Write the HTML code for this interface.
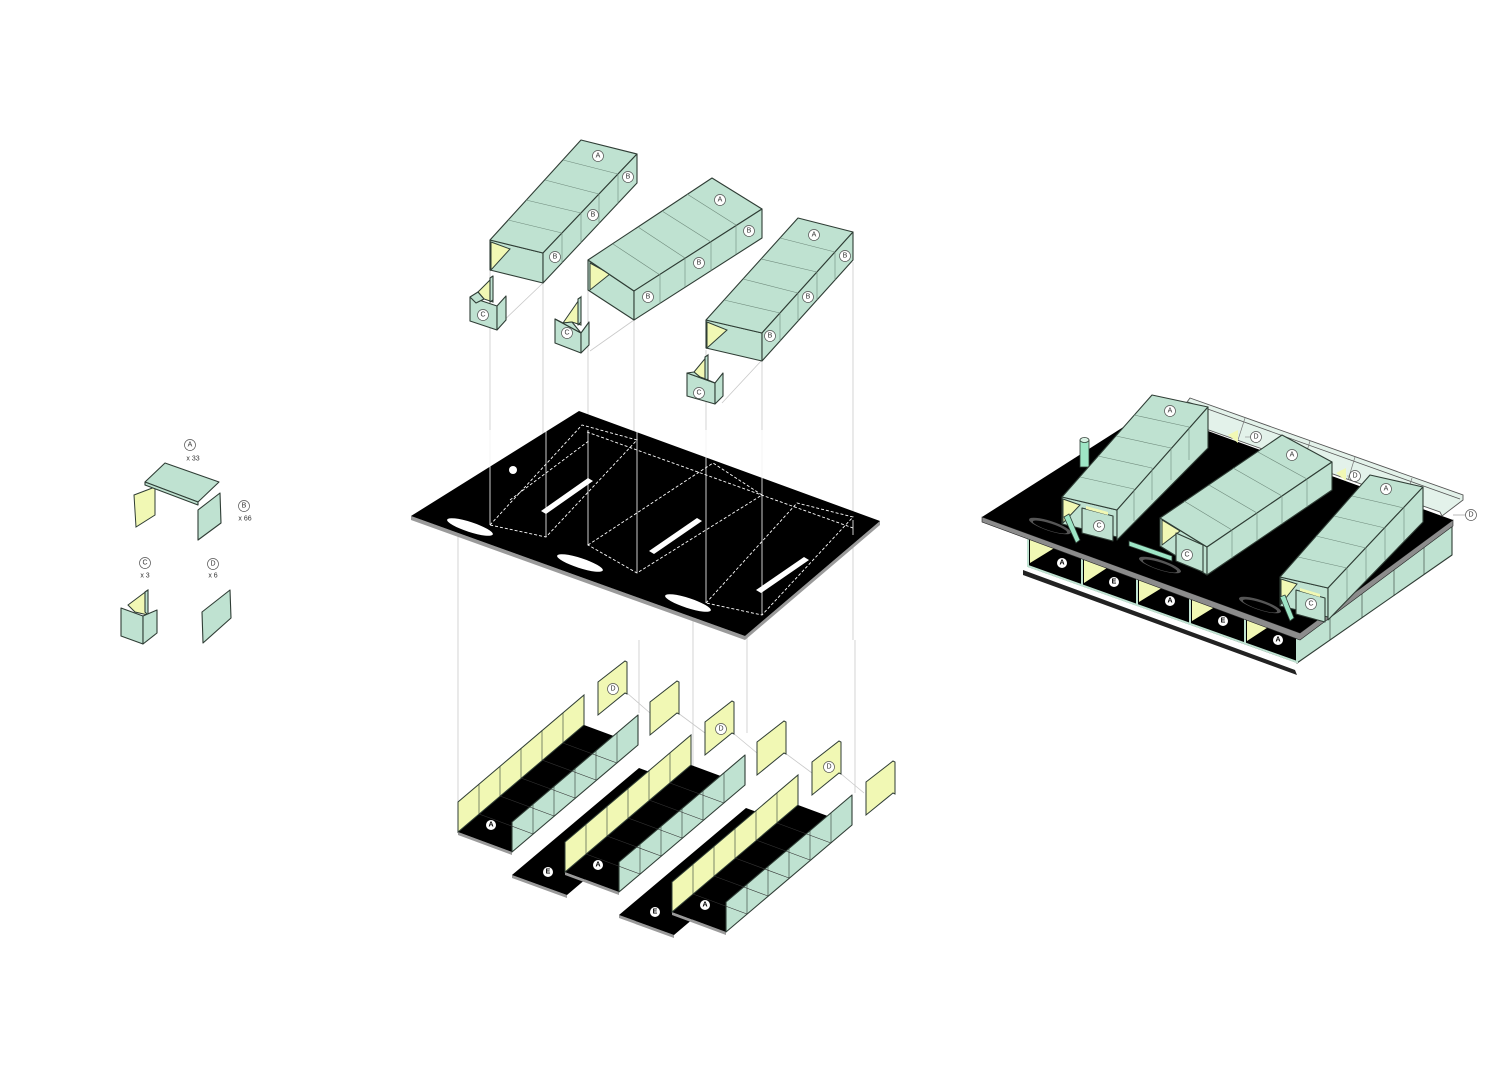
<!DOCTYPE html>
<html><head><meta charset="utf-8"><style>
html,body{margin:0;padding:0;background:#fff}
svg{display:block}
text{font-family:"Liberation Sans",sans-serif;text-anchor:middle;dominant-baseline:central}
.m{fill:#bfe2d1;stroke:#2f3d35;stroke-width:1.1;stroke-linejoin:round}
.y{fill:#f1f8b4;stroke:#2f3d35;stroke-width:1}
.d{fill:none;stroke:#6f8a7c;stroke-width:.6}
.k{fill:#000}
.g{stroke:#c9c9c9;stroke-width:.8;fill:none}
.w{fill:none;stroke:#fff;stroke-width:.9;stroke-dasharray:3 2}
.c{fill:#fff;stroke:#555;stroke-width:.7}
.t{font-size:7px;fill:#333}
.cb{fill:#fff;stroke:none}
.tb{font-size:7px;fill:#000;font-weight:bold}
.p{fill:#e3f2ea;stroke:#555;stroke-width:.9}
</style></head><body>
<svg width="1512" height="1068" viewBox="0 0 1512 1068" xmlns="http://www.w3.org/2000/svg">

<!-- LEGEND -->
<circle class="c" cx="190" cy="445" r="5.5"/><text class="t" x="190" y="445">A</text>
<text class="t" x="193" y="459">x 33</text>
<polygon class="y" points="134,495 155,487 155,515 136,527"/>
<polygon class="m" points="145,482 165,463 219,482 198,502"/>
<polygon class="m" points="145,482 198,502 198,505 145,485"/>
<polygon class="m" points="198,510 220,493 221,523 198,540"/>
<circle class="c" cx="244" cy="506" r="5.5"/><text class="t" x="244" y="506">B</text>
<text class="t" x="245" y="519">x 66</text>
<circle class="c" cx="145" cy="563" r="5.5"/><text class="t" x="145" y="563">C</text>
<text class="t" x="145" y="576">x 3</text>
<circle class="c" cx="213" cy="564" r="5.5"/><text class="t" x="213" y="564">D</text>
<text class="t" x="213" y="576">x 6</text>
<polygon class="y" points="128,605 148,590 148,615 135,612"/>
<polygon class="m" points="145,592 148,590 148,615 145,612"/>
<polygon class="m" points="121,608 143,616 143,644 121,636"/>
<polygon class="m" points="143,616 157,610 157,633 143,644"/>
<polygon class="m" points="202,612 230,590 231,618 203,643"/>

<!-- guide lines -->
<g class="g">
<line x1="490" y1="270" x2="490" y2="540"/><line x1="543" y1="283" x2="543" y2="520"/>
<line x1="588" y1="290" x2="588" y2="545"/><line x1="634" y1="320" x2="634" y2="445"/>
<line x1="706" y1="350" x2="706" y2="603"/><line x1="762" y1="360" x2="762" y2="615"/>
<line x1="853" y1="262" x2="853" y2="640"/>
<line x1="458" y1="520" x2="458" y2="802"/><line x1="639" y1="640" x2="639" y2="713"/>
<line x1="693" y1="600" x2="693" y2="810"/><line x1="747" y1="620" x2="747" y2="733"/>
<line x1="855" y1="640" x2="855" y2="793"/>
<line x1="497" y1="327" x2="543" y2="283"/><line x1="590" y1="351" x2="634" y2="320"/><line x1="722" y1="403" x2="762" y2="360"/>
<line x1="627" y1="693" x2="650" y2="713"/><line x1="678" y1="713" x2="705" y2="733"/>
<line x1="733" y1="733" x2="757" y2="753"/><line x1="785" y1="753" x2="812" y2="773"/>
<line x1="840" y1="773" x2="864" y2="793"/>
</g>

<!-- ROOF 1 -->
<polygon class="m" points="490,240 543,253 543,283 490,270"/>
<polygon class="y" points="491,242 510,249 491,270"/>
<polygon class="m" points="490,240 581,140 637,154 543,253"/>
<polygon class="m" points="543,253 637,154 637,183 543,283"/>
<g class="d"><line x1="508" y1="220" x2="562" y2="233"/><line x1="526" y1="200" x2="581" y2="213"/><line x1="545" y1="180" x2="599" y2="194"/><line x1="563" y1="160" x2="618" y2="174"/>
<line x1="562" y1="233" x2="562" y2="263"/><line x1="581" y1="213" x2="581" y2="243"/><line x1="599" y1="194" x2="599" y2="224"/><line x1="618" y1="174" x2="618" y2="204"/></g>
<circle class="c" cx="598" cy="156" r="5.5"/><text class="t" x="598" y="156">A</text>
<circle class="c" cx="628" cy="177" r="5.5"/><text class="t" x="628" y="177">B</text>
<circle class="c" cx="593" cy="215" r="5.5"/><text class="t" x="593" y="215">B</text>
<circle class="c" cx="555" cy="257" r="5.5"/><text class="t" x="555" y="257">B</text>
<!-- C1 -->
<polygon class="y" points="478,292 493,277 493,302 484,299"/>
<polygon class="m" points="490,278 493,276 493,300 490,302"/>
<polygon class="m" points="470,297 497,306 497,330 470,321"/>
<polygon class="m" points="497,306 506,296 506,320 497,330"/>
<polygon class="m" points="470,297 478,292 484,299 476,303"/>
<circle class="c" cx="483" cy="315" r="5.5"/><text class="t" x="483" y="315">C</text>

<!-- ROOF 2 -->
<polygon class="m" points="588,260 634,291 634,320 588,290"/>
<polygon class="y" points="590,263 610,274 590,290"/>
<polygon class="m" points="588,260 712,178 762,209 634,291"/>
<polygon class="m" points="634,291 762,209 762,238 634,320"/>
<g class="d"><line x1="613" y1="244" x2="660" y2="275"/><line x1="638" y1="227" x2="685" y2="258"/><line x1="662" y1="211" x2="711" y2="242"/><line x1="687" y1="194" x2="736" y2="225"/>
<line x1="660" y1="275" x2="660" y2="304"/><line x1="685" y1="258" x2="685" y2="287"/><line x1="711" y1="242" x2="711" y2="271"/><line x1="736" y1="225" x2="736" y2="254"/></g>
<circle class="c" cx="720" cy="200" r="5.5"/><text class="t" x="720" y="200">A</text>
<circle class="c" cx="749" cy="231" r="5.5"/><text class="t" x="749" y="231">B</text>
<circle class="c" cx="699" cy="263" r="5.5"/><text class="t" x="699" y="263">B</text>
<circle class="c" cx="648" cy="297" r="5.5"/><text class="t" x="648" y="297">B</text>
<!-- C2 -->
<polygon class="y" points="563,323 581,297 581,325 572,322"/>
<polygon class="m" points="578,299 581,297 581,322 578,325"/>
<polygon class="m" points="555,319 581,333 581,353 555,343"/>
<polygon class="m" points="581,333 589,322 589,345 581,353"/>
<polygon class="m" points="555,319 563,323 572,322 581,333"/>
<circle class="c" cx="567" cy="333" r="5.5"/><text class="t" x="567" y="333">C</text>

<!-- ROOF 3 -->
<polygon class="m" points="706,320 762,333 762,361 706,348"/>
<polygon class="y" points="707,322 727,330 707,348"/>
<polygon class="m" points="706,320 798,218 853,232 762,333"/>
<polygon class="m" points="762,333 853,232 853,260 762,361"/>
<g class="d"><line x1="724" y1="300" x2="780" y2="313"/><line x1="743" y1="279" x2="798" y2="293"/><line x1="761" y1="259" x2="817" y2="272"/><line x1="780" y1="238" x2="835" y2="252"/>
<line x1="780" y1="313" x2="780" y2="341"/><line x1="798" y1="293" x2="798" y2="321"/><line x1="817" y1="272" x2="817" y2="300"/><line x1="835" y1="252" x2="835" y2="280"/></g>
<circle class="c" cx="814" cy="235" r="5.5"/><text class="t" x="814" y="235">A</text>
<circle class="c" cx="845" cy="256" r="5.5"/><text class="t" x="845" y="256">B</text>
<circle class="c" cx="808" cy="297" r="5.5"/><text class="t" x="808" y="297">B</text>
<circle class="c" cx="770" cy="336" r="5.5"/><text class="t" x="770" y="336">B</text>
<!-- C3 -->
<polygon class="y" points="694,372 708,355 708,380 700,377"/>
<polygon class="m" points="705,357 708,355 708,379 705,381"/>
<polygon class="m" points="687,373 715,383 715,404 687,396"/>
<polygon class="m" points="715,383 723,373 723,396 715,404"/>
<polygon class="m" points="687,373 694,372 700,377 708,380 715,383"/>
<circle class="c" cx="699" cy="393" r="5.5"/><text class="t" x="699" y="393">C</text>

<!-- SLAB -->
<polygon fill="#9a9a9a" points="411,516 411,520 745,640 880,525 880,521 745,636"/>
<polygon class="k" points="411,516 579,411 880,521 745,636"/>
<g fill="#fff">
<ellipse cx="470" cy="527" rx="24" ry="5" transform="rotate(18 470 527)"/>
<ellipse cx="580" cy="563" rx="24" ry="5" transform="rotate(18 580 563)"/>
<ellipse cx="688" cy="603" rx="24" ry="5" transform="rotate(18 688 603)"/>
<circle cx="513" cy="470" r="4"/>
<polygon points="541,511 588,478 593,481 546,514"/>
<polygon points="649,551 697,518 702,521 654,554"/>
<polygon points="756,590 804,557 809,560 761,593"/>
</g>
<g class="w">
<polygon points="490,525 582,425 637,440 546,537"/>
<polygon points="588,545 713,463 762,495 637,573"/>
<polygon points="706,603 797,503 853,517 762,615"/>
<polyline points="587,432 853,528"/>
<polyline points="510,500 590,440"/>
</g>
<g stroke="#fff" stroke-width=".8"><line x1="490" y1="430" x2="490" y2="525"/><line x1="546" y1="430" x2="546" y2="537"/><line x1="588" y1="430" x2="588" y2="545"/><line x1="637" y1="430" x2="637" y2="573"/><line x1="706" y1="430" x2="706" y2="603"/><line x1="762" y1="430" x2="762" y2="615"/><line x1="853" y1="520" x2="853" y2="535"/></g>

<!-- CHANNELS -->
<g id="ch1">
<polygon fill="#9a9a9a" points="458,832 512,852 512,855 458,835"/>
<polygon class="k" points="458,832 512,852 638,745 584,725"/>
<polygon class="y" points="458,832 458,802 584,695 584,725"/>
<polygon class="m" points="512,852 512,822 638,715 638,745"/>
<g stroke="#2f3d35" stroke-width=".6"><line x1="479" y1="784" x2="479" y2="814"/><line x1="500" y1="766" x2="500" y2="796"/><line x1="521" y1="748" x2="521" y2="778"/><line x1="542" y1="730" x2="542" y2="760"/><line x1="563" y1="713" x2="563" y2="743"/>
<line x1="533" y1="804" x2="533" y2="834"/><line x1="554" y1="786" x2="554" y2="816"/><line x1="575" y1="768" x2="575" y2="798"/><line x1="596" y1="750" x2="596" y2="780"/><line x1="617" y1="733" x2="617" y2="763"/></g>
<g stroke="#333" stroke-width=".6"><line x1="479" y1="814" x2="533" y2="834"/><line x1="500" y1="796" x2="554" y2="816"/><line x1="521" y1="778" x2="575" y2="798"/><line x1="542" y1="760" x2="596" y2="780"/><line x1="563" y1="743" x2="617" y2="763"/></g>
<circle class="cb" cx="491" cy="825" r="5"/><text class="tb" x="491" y="825">A</text>
</g>
<!-- E plate 1 -->
<polygon fill="#9a9a9a" points="512,875 567,895 567,898 512,878"/>
<polygon class="k" points="512,875 567,895 693,788 639,768"/>
<circle class="cb" cx="548" cy="872" r="5"/><text class="tb" x="548" y="872">E</text>
<g transform="translate(107,40)">
<polygon fill="#9a9a9a" points="458,832 512,852 512,855 458,835"/>
<polygon class="k" points="458,832 512,852 638,745 584,725"/>
<polygon class="y" points="458,832 458,802 584,695 584,725"/>
<polygon class="m" points="512,852 512,822 638,715 638,745"/>
<g stroke="#2f3d35" stroke-width=".6"><line x1="479" y1="784" x2="479" y2="814"/><line x1="500" y1="766" x2="500" y2="796"/><line x1="521" y1="748" x2="521" y2="778"/><line x1="542" y1="730" x2="542" y2="760"/><line x1="563" y1="713" x2="563" y2="743"/>
<line x1="533" y1="804" x2="533" y2="834"/><line x1="554" y1="786" x2="554" y2="816"/><line x1="575" y1="768" x2="575" y2="798"/><line x1="596" y1="750" x2="596" y2="780"/><line x1="617" y1="733" x2="617" y2="763"/></g>
<g stroke="#333" stroke-width=".6"><line x1="479" y1="814" x2="533" y2="834"/><line x1="500" y1="796" x2="554" y2="816"/><line x1="521" y1="778" x2="575" y2="798"/><line x1="542" y1="760" x2="596" y2="780"/><line x1="563" y1="743" x2="617" y2="763"/></g>
<circle class="cb" cx="491" cy="825" r="5"/><text class="tb" x="491" y="825">A</text>
</g>
<g transform="translate(107,40)">
<polygon fill="#9a9a9a" points="512,875 567,895 567,898 512,878"/>
<polygon class="k" points="512,875 567,895 693,788 639,768"/>
<circle class="cb" cx="548" cy="872" r="5"/><text class="tb" x="548" y="872">E</text>
</g>
<g transform="translate(214,80)">
<polygon fill="#9a9a9a" points="458,832 512,852 512,855 458,835"/>
<polygon class="k" points="458,832 512,852 638,745 584,725"/>
<polygon class="y" points="458,832 458,802 584,695 584,725"/>
<polygon class="m" points="512,852 512,822 638,715 638,745"/>
<g stroke="#2f3d35" stroke-width=".6"><line x1="479" y1="784" x2="479" y2="814"/><line x1="500" y1="766" x2="500" y2="796"/><line x1="521" y1="748" x2="521" y2="778"/><line x1="542" y1="730" x2="542" y2="760"/><line x1="563" y1="713" x2="563" y2="743"/>
<line x1="533" y1="804" x2="533" y2="834"/><line x1="554" y1="786" x2="554" y2="816"/><line x1="575" y1="768" x2="575" y2="798"/><line x1="596" y1="750" x2="596" y2="780"/><line x1="617" y1="733" x2="617" y2="763"/></g>
<g stroke="#333" stroke-width=".6"><line x1="479" y1="814" x2="533" y2="834"/><line x1="500" y1="796" x2="554" y2="816"/><line x1="521" y1="778" x2="575" y2="798"/><line x1="542" y1="760" x2="596" y2="780"/><line x1="563" y1="743" x2="617" y2="763"/></g>
<circle class="cb" cx="491" cy="825" r="5"/><text class="tb" x="491" y="825">A</text>
</g>
<!-- D panels -->
<g>
<polygon class="y" points="598,682 625,661 627,662 627,694 625,693 598,715"/>
<polygon class="y" points="650,702 677,681 679,682 679,714 677,713 650,735"/>
<polygon class="y" points="705,722 732,701 734,702 734,734 732,733 705,755"/>
<polygon class="y" points="757,742 784,721 786,722 786,754 784,753 757,775"/>
<polygon class="y" points="812,762 839,741 841,742 841,774 839,773 812,795"/>
<polygon class="y" points="866,782 893,761 895,762 895,794 893,793 866,815"/>
<circle class="c" cx="613" cy="689" r="5.5"/><text class="t" x="613" y="689">D</text>
<circle class="c" cx="721" cy="729" r="5.5"/><text class="t" x="721" y="729">D</text>
<circle class="c" cx="829" cy="767" r="5.5"/><text class="t" x="829" y="767">D</text>
</g>

<!-- RIGHT ASSEMBLY -->
<!-- lower layer -->
<polygon fill="#222" points="1023,570 1295,670 1297,675 1023,575"/>
<polygon class="m" points="1297,633 1452,525 1452,555 1297,663"/>
<g stroke="#2f3d35" stroke-width=".6"><line x1="1330" y1="610" x2="1330" y2="640"/><line x1="1362" y1="588" x2="1362" y2="618"/><line x1="1394" y1="566" x2="1394" y2="596"/><line x1="1424" y1="544" x2="1424" y2="574"/></g>
<polygon class="k" points="1028,537 1297,633 1297,663 1028,567"/>
<g fill="#f1f8b4">
<polygon points="1030,538 1056,547 1030,563"/>
<polygon points="1084,557 1110,566 1084,583"/>
<polygon points="1139,577 1165,586 1139,602"/>
<polygon points="1192,596 1218,605 1192,621"/>
<polygon points="1247,615 1273,624 1247,641"/>
</g>
<g stroke="#bfe2d1" stroke-width="2"><line x1="1028" y1="537" x2="1028" y2="567"/><line x1="1082" y1="556" x2="1082" y2="586"/><line x1="1137" y1="576" x2="1137" y2="606"/><line x1="1190" y1="595" x2="1190" y2="625"/><line x1="1245" y1="614" x2="1245" y2="644"/><line x1="1297" y1="633" x2="1297" y2="663"/>
<line x1="1028" y1="566" x2="1297" y2="662"/></g>
<g>
<circle class="cb" cx="1062" cy="563" r="5"/><text class="tb" x="1062" y="563">A</text>
<circle class="cb" cx="1114" cy="582" r="5"/><text class="tb" x="1114" y="582">E</text>
<circle class="cb" cx="1170" cy="601" r="5"/><text class="tb" x="1170" y="601">A</text>
<circle class="cb" cx="1223" cy="621" r="5"/><text class="tb" x="1223" y="621">E</text>
<circle class="cb" cx="1278" cy="640" r="5"/><text class="tb" x="1278" y="640">A</text>
</g>
<!-- slab -->
<polygon fill="#8c8c8c" stroke="#222" stroke-width=".6" points="982,517 1300,633 1453,520 1453,526 1300,640 982,522"/>
<polygon class="k" points="982,517 1150,410 1453,520 1300,633"/>
<!-- glass panels -->
<polygon class="p" points="1190,398 1463,495 1463,500 1442,516 1440,512 1175,418"/>
<polyline fill="none" stroke="#555" stroke-width=".8" points="1188,402 1460,499"/>
<g stroke="#777" stroke-width=".7"><line x1="1245" y1="418" x2="1238" y2="440"/><line x1="1310" y1="441" x2="1303" y2="464"/><line x1="1355" y1="457" x2="1348" y2="480"/><line x1="1412" y1="478" x2="1405" y2="500"/></g>
<polygon fill="#f1f8b4" points="1228,435 1238,430 1238,443"/>
<polygon fill="#f1f8b4" points="1336,473 1346,468 1346,481"/>
<g stroke="#888" stroke-width=".6"><line x1="1245" y1="437" x2="1251" y2="437"/><line x1="1347" y1="476" x2="1350" y2="476"/><line x1="1453" y1="515" x2="1465" y2="515"/></g>
<circle class="c" cx="1256" cy="437" r="5.5"/><text class="t" x="1256" y="437">D</text>
<circle class="c" cx="1355" cy="476" r="5.5"/><text class="t" x="1355" y="476">D</text>
<circle class="c" cx="1471" cy="515" r="5.5"/><text class="t" x="1471" y="515">D</text>
<!-- slab holes -->
<g fill="#555"><ellipse cx="1050" cy="526" rx="22" ry="5" transform="rotate(18 1050 526)"/><ellipse cx="1160" cy="565" rx="22" ry="5" transform="rotate(18 1160 565)"/><ellipse cx="1260" cy="605" rx="22" ry="5" transform="rotate(18 1260 605)"/></g>
<g fill="#000"><ellipse cx="1050" cy="527" rx="18" ry="3.5" transform="rotate(18 1050 527)"/><ellipse cx="1160" cy="566" rx="18" ry="3.5" transform="rotate(18 1160 566)"/><ellipse cx="1260" cy="606" rx="18" ry="3.5" transform="rotate(18 1260 606)"/></g>
<!-- cylinder -->
<rect x="1080" y="440" width="9" height="27" fill="#9ee6c6" stroke="#2f3d35" stroke-width=".8"/>
<ellipse cx="1084.5" cy="440" rx="4.5" ry="2.5" fill="#d8f2e4" stroke="#2f3d35" stroke-width=".8"/>
<!-- R1 -->
<polygon class="m" points="1062,497 1117,510 1117,537 1062,524"/>
<polygon class="y" points="1063,499 1080,505 1063,523"/>
<polygon class="m" points="1062,497 1152,395 1208,407 1117,510"/>
<polygon class="m" points="1117,510 1208,407 1208,448 1117,540"/>
<g class="d"><line x1="1080" y1="477" x2="1134" y2="489"/><line x1="1098" y1="456" x2="1152" y2="468"/><line x1="1116" y1="436" x2="1171" y2="448"/><line x1="1134" y1="415" x2="1189" y2="427"/>
<line x1="1134" y1="489" x2="1134" y2="521"/><line x1="1152" y1="468" x2="1152" y2="500"/><line x1="1171" y1="448" x2="1171" y2="480"/><line x1="1189" y1="427" x2="1189" y2="460"/></g>
<polygon class="m" points="1082,508 1113,516 1113,541 1082,533"/>
<polygon fill="#f1f8b4" points="1086,506 1108,512 1108,515 1086,509"/>
<circle class="c" cx="1099" cy="526" r="5.5"/><text class="t" x="1099" y="526">C</text>
<circle class="c" cx="1170" cy="411" r="5.5"/><text class="t" x="1170" y="411">A</text>
<polygon fill="#9ee6c6" stroke="#2f3d35" stroke-width=".8" points="1064,517 1069,514 1080,540 1076,543"/>
<!-- green bar -->
<polygon fill="#9ee6c6" stroke="#2f3d35" stroke-width=".8" points="1129,541 1172,556 1172,561 1129,546"/>
<!-- R2 -->
<polygon class="m" points="1160,518 1207,547 1207,575 1160,546"/>
<polygon class="y" points="1162,520 1180,531 1162,545"/>
<polygon class="m" points="1160,518 1282,435 1332,462 1207,547"/>
<polygon class="m" points="1207,547 1332,462 1332,490 1207,575"/>
<g class="d"><line x1="1184" y1="501" x2="1232" y2="530"/><line x1="1209" y1="485" x2="1257" y2="513"/><line x1="1233" y1="468" x2="1282" y2="496"/><line x1="1258" y1="452" x2="1307" y2="479"/>
<line x1="1232" y1="530" x2="1232" y2="558"/><line x1="1257" y1="513" x2="1257" y2="541"/><line x1="1282" y1="496" x2="1282" y2="524"/><line x1="1307" y1="479" x2="1307" y2="507"/></g>
<polygon class="m" points="1176,533 1203,545 1203,572 1176,561"/>
<circle class="c" cx="1187" cy="555" r="5.5"/><text class="t" x="1187" y="555">C</text>
<circle class="c" cx="1292" cy="455" r="5.5"/><text class="t" x="1292" y="455">A</text>
<!-- R3 -->
<polygon class="m" points="1280,577 1328,588 1328,617 1280,606"/>
<polygon class="y" points="1281,579 1297,584 1281,604"/>
<polygon class="m" points="1280,577 1370,475 1423,487 1328,588"/>
<polygon class="m" points="1328,588 1423,487 1423,522 1328,620"/>
<g class="d"><line x1="1298" y1="557" x2="1347" y2="568"/><line x1="1316" y1="536" x2="1366" y2="548"/><line x1="1334" y1="516" x2="1385" y2="528"/><line x1="1352" y1="496" x2="1404" y2="508"/>
<line x1="1347" y1="568" x2="1347" y2="600"/><line x1="1366" y1="548" x2="1366" y2="580"/><line x1="1385" y1="528" x2="1385" y2="560"/><line x1="1404" y1="508" x2="1404" y2="541"/></g>
<polygon class="m" points="1296,590 1325,598 1325,622 1296,614"/>
<polygon fill="#f1f8b4" points="1300,588 1320,594 1320,597 1300,591"/>
<circle class="c" cx="1311" cy="604" r="5.5"/><text class="t" x="1311" y="604">C</text>
<circle class="c" cx="1386" cy="489" r="5.5"/><text class="t" x="1386" y="489">A</text>
<polygon fill="#9ee6c6" stroke="#2f3d35" stroke-width=".8" points="1280,597 1285,595 1294,618 1290,621"/>
</svg>
</body></html>
